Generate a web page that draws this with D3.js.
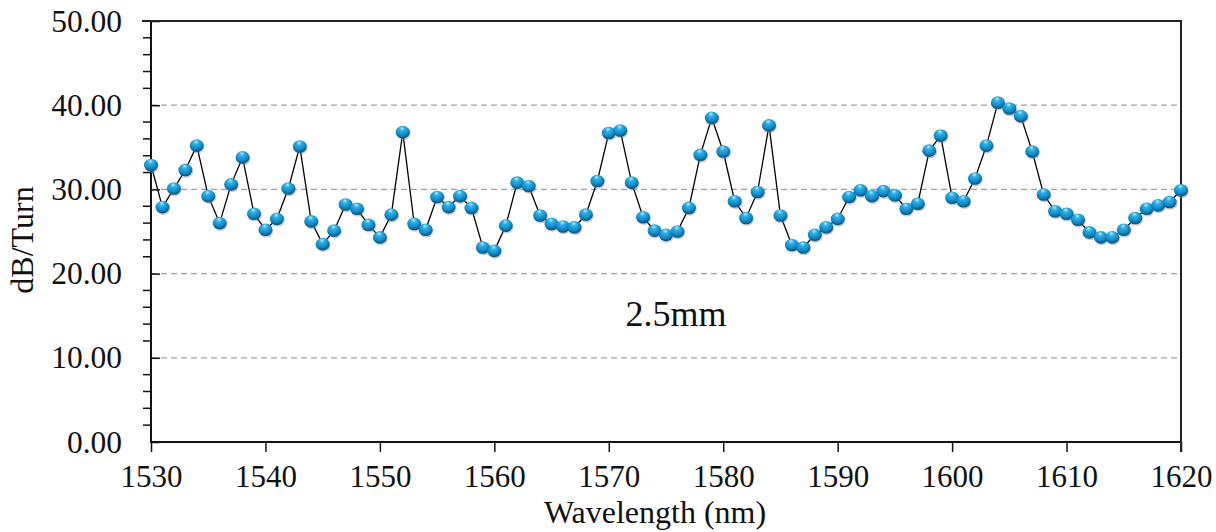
<!DOCTYPE html>
<html>
<head>
<meta charset="utf-8">
<script src="https://cdn.jsdelivr.net/npm/d3@7"></script>
<style>
  body { margin: 0; background: #fff; }
  svg { display: block; font-family: "Liberation Serif", "Times New Roman", serif; }
</style>
</head>
<body>
<svg id="chart" width="1216" height="532"></svg>
<script>
// wavelength (nm) and loss (dB/turn) for the 2.5mm bend
const wavelengths = [
  1530, 1531, 1532, 1533, 1534, 1535, 1536, 1537, 1538, 1539,
  1540, 1541, 1542, 1543, 1544, 1545, 1546, 1547, 1548, 1549,
  1550, 1551, 1552, 1553, 1554, 1555, 1556, 1557, 1558, 1559,
  1560, 1561, 1562, 1563, 1564, 1565, 1566, 1567, 1568, 1569,
  1570, 1571, 1572, 1573, 1574, 1575, 1576, 1577, 1578, 1579,
  1580, 1581, 1582, 1583, 1584, 1585, 1586, 1587, 1588, 1589,
  1590, 1591, 1592, 1593, 1594, 1595, 1596, 1597, 1598, 1599,
  1600, 1601, 1602, 1603, 1604, 1605, 1606, 1607, 1608, 1609,
  1610, 1611, 1612, 1613, 1614, 1615, 1616, 1617, 1618, 1619,
  1620
];
const lossValues = [
  32.9, 27.9, 30.1, 32.3, 35.2, 29.2, 26.0, 30.6, 33.8, 27.1,
  25.2, 26.5, 30.1, 35.1, 26.2, 23.5, 25.1, 28.2, 27.7, 25.8,
  24.3, 27.0, 36.8, 25.9, 25.2, 29.1, 27.9, 29.2, 27.8, 23.1,
  22.7, 25.7, 30.8, 30.4, 26.9, 25.9, 25.6, 25.5, 27.0, 31.0,
  36.7, 37.0, 30.8, 26.7, 25.1, 24.6, 25.0, 27.8, 34.1, 38.5,
  34.5, 28.6, 26.6, 29.7, 37.6, 26.9, 23.4, 23.1, 24.6, 25.5,
  26.5, 29.1, 29.9, 29.2, 29.8, 29.3, 27.7, 28.3, 34.6, 36.4,
  29.0, 28.6, 31.3, 35.2, 40.3, 39.6, 38.7, 34.5, 29.4, 27.4,
  27.1, 26.4, 24.9, 24.3, 24.3, 25.2, 26.6, 27.7, 28.1, 28.5,
  29.9
];
const xTicks = [1530, 1540, 1550, 1560, 1570, 1580, 1590, 1600, 1610, 1620];
const yTicks = [0, 10, 20, 30, 40, 50];
const gridLevels = [10, 20, 30, 40];

const data = wavelengths.map((w, i) => ({ w: w, v: lossValues[i] }));

const box = { left: 151, top: 21, right: 1181, bottom: 442 };

const svg = d3.select('#chart');

const xScale = d3.scaleLinear().domain([1530, 1620]).range([box.left, box.right]);
const yScale = d3.scaleLinear().domain([0, 50]).range([box.bottom, box.top]);

// ball gradient
const defs = svg.append('defs');
const grad = defs.append('radialGradient')
  .attr('id', 'ball').attr('cx', '45%').attr('cy', '35%').attr('r', '65%')
  .attr('fx', '45%').attr('fy', '18%');
grad.append('stop').attr('offset', '0%').attr('stop-color', '#c0efff');
grad.append('stop').attr('offset', '28%').attr('stop-color', '#2cb0e6');
grad.append('stop').attr('offset', '68%').attr('stop-color', '#128ac8');
grad.append('stop').attr('offset', '100%').attr('stop-color', '#084e78');

// dashed grid
svg.append('g').selectAll('line')
  .data(gridLevels).enter().append('line')
  .attr('x1', box.left).attr('x2', box.right)
  .attr('y1', d => yScale(d)).attr('y2', d => yScale(d))
  .style('stroke', '#a0a0a0').style('stroke-width', 1.2)
  .style('stroke-dasharray', '6,4');

// y axis
const yAxis = svg.append('g')
  .attr('transform', `translate(${box.left},0)`)
  .call(d3.axisLeft(yScale).tickValues(yTicks).tickSize(9).tickPadding(20)
    .tickFormat(d3.format('.2f')));
yAxis.select('.domain').remove();
yAxis.selectAll('.tick line').attr('x2', 9).style('stroke', '#111').style('stroke-width', 1.5);
yAxis.selectAll('.tick text')
  .style('font-size', '31.5px').style('fill', '#111')
  .style('font-family', '"Liberation Serif", serif');

// y minor ticks
const yMinor = d3.range(0, 51, 2).filter(d => d % 10 !== 0);
svg.append('g').selectAll('line')
  .data(yMinor).enter().append('line')
  .attr('x1', box.left - 8).attr('x2', box.left)
  .attr('y1', d => yScale(d)).attr('y2', d => yScale(d))
  .style('stroke', '#111').style('stroke-width', 1.5);

// x axis
const xAxis = svg.append('g')
  .attr('transform', `translate(0,${box.bottom})`)
  .call(d3.axisBottom(xScale).tickValues(xTicks).tickSize(10).tickPadding(13)
    .tickFormat(d3.format('d')));
xAxis.select('.domain').remove();
xAxis.selectAll('.tick line').style('stroke', '#111').style('stroke-width', 1.5);
xAxis.selectAll('.tick text')
  .style('font-size', '31px').style('fill', '#111')
  .style('font-family', '"Liberation Serif", serif');

// frame: left, bottom, top, right
svg.append('path')
  .attr('d', `M${box.left},${box.top}V${box.bottom}H${box.right}`)
  .style('fill', 'none').style('stroke', '#111').style('stroke-width', 2);
svg.append('path')
  .attr('d', `M${box.left - 9},${box.top}H${box.right}V${box.bottom + 10}`)
  .style('fill', 'none').style('stroke', '#222').style('stroke-width', 2);

// connecting line
const line = d3.line().x(d => xScale(d.w)).y(d => yScale(d.v));
svg.append('path')
  .datum(data)
  .attr('d', line)
  .style('fill', 'none').style('stroke', '#000').style('stroke-width', 1.3);

// ball markers
const balls = svg.append('g').selectAll('g')
  .data(data).enter().append('g')
  .attr('transform', d => `translate(${xScale(d.w)},${yScale(d.v)})`);
balls.append('ellipse')
  .attr('cx', 0.8).attr('cy', 1.3).attr('rx', 7.1).attr('ry', 6.5)
  .style('fill', '#7f8f99').style('opacity', 0.45);
balls.append('ellipse')
  .attr('rx', 7).attr('ry', 6.3)
  .style('fill', 'url(#ball)');

// labels
svg.append('text')
  .attr('x', 676).attr('y', 326)
  .style('text-anchor', 'middle').style('font-size', '36px').style('fill', '#111')
  .text('2.5mm');

svg.append('text')
  .attr('x', 655).attr('y', 523)
  .style('text-anchor', 'middle').style('font-size', '32px').style('fill', '#111')
  .text('Wavelength (nm)');

svg.append('text')
  .attr('transform', 'rotate(-90, 33, 240)')
  .attr('x', 33).attr('y', 240)
  .style('text-anchor', 'middle').style('font-size', '32px').style('fill', '#111')
  .text('dB/Turn');
</script>
</body>
</html>
